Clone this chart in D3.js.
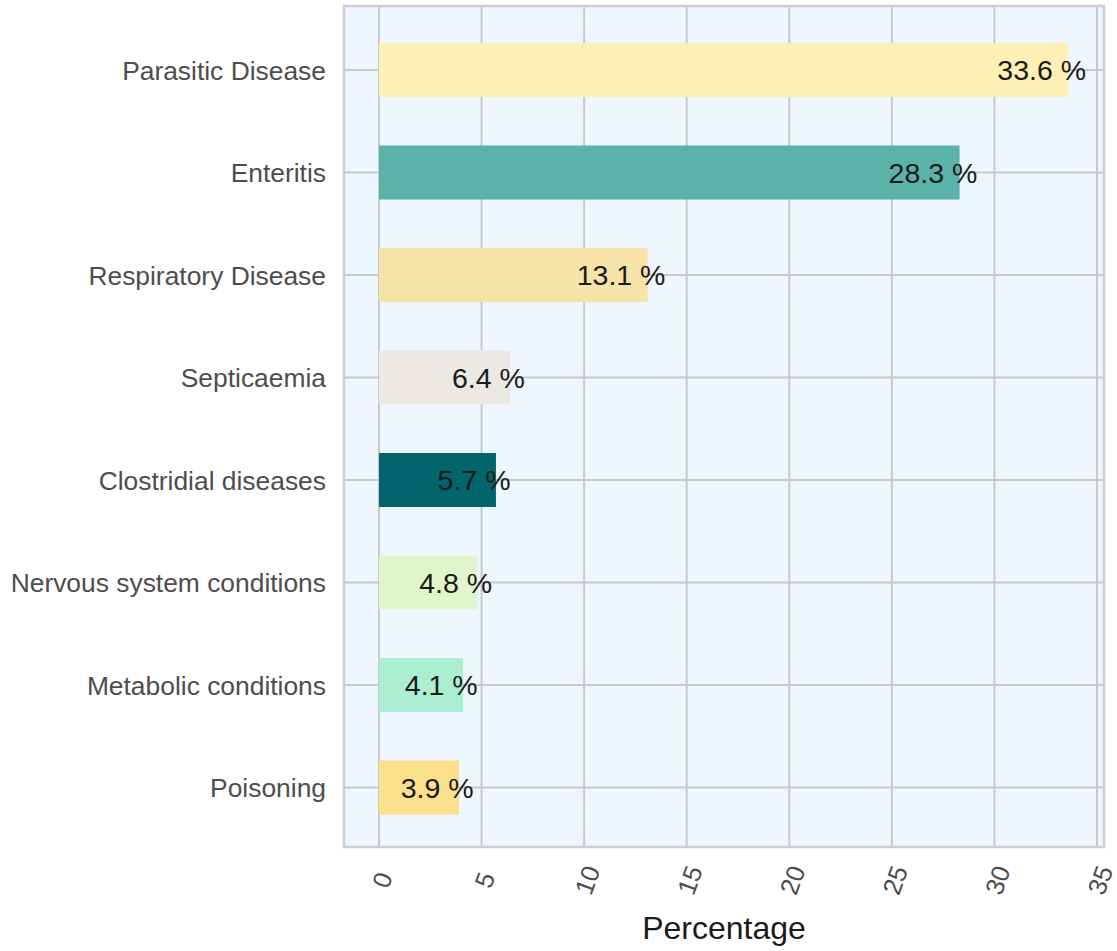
<!DOCTYPE html>
<html>
<head>
<meta charset="utf-8">
<script src="https://cdn.jsdelivr.net/npm/d3@7"></script>
<style>
html,body{margin:0;padding:0;background:#fff;}
svg{display:block;font-family:"Liberation Sans",Arial,sans-serif;}
</style>
</head>
<body>
<svg id="chart" width="1117" height="951"></svg>
<script>
const categories = ["Parasitic Disease","Enteritis","Respiratory Disease","Septicaemia","Clostridial diseases","Nervous system conditions","Metabolic conditions","Poisoning"];
const values = [33.6, 28.3, 13.1, 6.4, 5.7, 4.8, 4.1, 3.9];
const colors = ["#FDF0B5","#5AB2A8","#F6E3A8","#ECE8E3","#01656B","#E1F5CA","#ACEED2","#FBE08C"];
const xTicks = [0,5,10,15,20,25,30,35];
const xTitle = "Percentage";

const svg = d3.select("#chart");
const panel = {left:344, right:1104, top:6, bottom:847};

const x = d3.scaleLinear().domain([0,35]).range([379,1097]);
const y = d3.scalePoint().domain(categories).range([70,787.5]);
const barH = 54;

// panel background
svg.append("rect").attr("x",panel.left).attr("y",panel.top)
  .attr("width",panel.right-panel.left).attr("height",panel.bottom-panel.top)
  .attr("fill","#EEF6FF");

// grid
const g = svg.append("g");
g.selectAll("line.vx").data(xTicks).join("line")
  .attr("x1",d=>x(d)).attr("x2",d=>x(d))
  .attr("y1",panel.top).attr("y2",panel.bottom)
  .attr("stroke","#C9C9C9").attr("stroke-width",2);
g.selectAll("line.hy").data(categories).join("line")
  .attr("x1",panel.left).attr("x2",panel.right)
  .attr("y1",d=>y(d)).attr("y2",d=>y(d))
  .attr("stroke","#C9C9C9").attr("stroke-width",2);

// bars
svg.append("g").selectAll("rect").data(categories).join("rect")
  .attr("x",x(0)).attr("y",d=>y(d)-barH/2)
  .attr("width",(d,i)=>x(values[i])-x(0)).attr("height",barH)
  .attr("fill",(d,i)=>colors[i]);

// panel border
svg.append("rect").attr("x",panel.left).attr("y",panel.top)
  .attr("width",panel.right-panel.left).attr("height",panel.bottom-panel.top)
  .attr("fill","none").attr("stroke","#CFCFCF").attr("stroke-width",2.5);

// value labels
svg.append("g").selectAll("text").data(categories).join("text")
  .attr("y",d=>y(d))
  .attr("dy","0.36em")
  .attr("font-size",28.5)
  .attr("fill","#1A1A1A")
  .text((d,i)=>values[i].toFixed(1)+" %")
  .each(function(d,i){
    const w=this.getComputedTextLength();
    d3.select(this).attr("x",x(values[i])-0.8*w);
  });

// y axis labels
svg.append("g").selectAll("text").data(categories).join("text")
  .attr("x",326).attr("y",d=>y(d)).attr("dy","0.36em")
  .attr("text-anchor","end").attr("font-size",26.4)
  .attr("fill","#4D4D4D").text(d=>d);

// x tick labels
svg.append("g").selectAll("text").data(xTicks).join("text")
  .attr("transform",d=>`translate(${x(d)+3},880) rotate(-70)`)
  .attr("text-anchor","middle").attr("dy","0.36em")
  .attr("font-size",25.5).attr("fill","#4D4D4D")
  .text(d=>d);

// x title
svg.append("text").attr("x",(panel.left+panel.right)/2).attr("y",939)
  .attr("text-anchor","middle").attr("font-size",32).attr("fill","#1A1A1A")
  .text(xTitle);
</script>
</body>
</html>
